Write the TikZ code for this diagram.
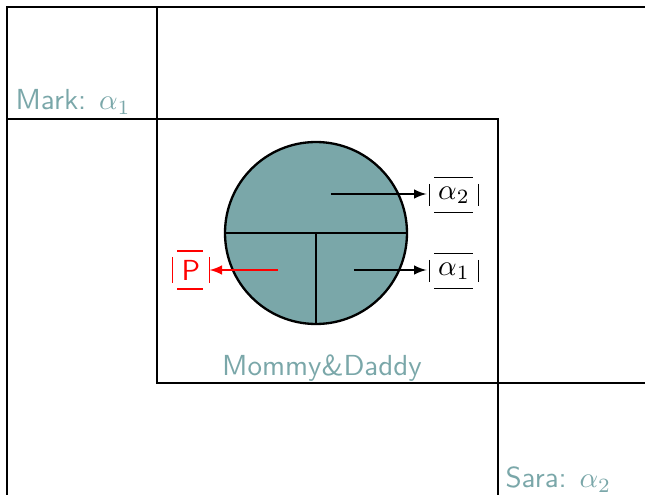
\documentclass[tikz,border=0pt]{standalone}
\usetikzlibrary{arrows,calc}
\begin{document}
\begin{tikzpicture}[x=0.3448pt,y=-0.3448pt]
\definecolor{tealfill}{RGB}{122,167,169}
\tikzset{
  regionline/.style={line width=0.45pt},
  setlabel/.style={text=tealfill,font=\sffamily,inner sep=0pt},
  vallabel/.style={inner sep=0pt,minimum width=16.55pt,minimum height=11.72pt},
  plabel/.style={inner sep=0pt,minimum width=12.41pt,minimum height=12.76pt,text=red},
  deco/.style={line width=0.45pt},
  arr/.style={-latex,line width=0.5pt},
}
\useasboundingbox (0,0) rectangle (645,495);
% region borders
\draw[regionline] (7,495) -- (7,7) -- (645,7);
\draw[regionline] (157,7) -- (157,383) -- (645,383);
\draw[regionline] (7,119) -- (498,119) -- (498,495);
% labels
\node[setlabel,anchor=base west] (mark) at (15,110) {Mark: $\alpha_1$};
\node[setlabel,anchor=base west] (sara) at (505,488) {Sara: $\alpha_2$};
\node[setlabel,anchor=base] (md) at (322,375) {Mommy\&Daddy};
% circle
\node[circle,draw,line width=0.8pt,fill=tealfill,minimum size=62.75pt,inner sep=0pt] (c) at (316,233) {};
\draw[line width=0.8pt] (c.west) -- (c.east);
\draw[line width=0.8pt] (c.center) -- (c.south);
% value labels
\node[vallabel] (l2) at (454,195) {$\alpha_2$};
\node[vallabel] (l1) at (454,271) {$\alpha_1$};
\node[plabel] (p) at (191,270) {$\mathsf{P}$};
\foreach \n in {l2,l1}{
  \draw[deco] ($(\n.north west)+(5,0)$) -- ($(\n.north east)+(-6,0)$);
  \draw[deco] ($(\n.south west)+(5,0)$) -- ($(\n.south east)+(-6,0)$);
  \draw[deco] ($(\n.west)+(0,-11)$) -- ($(\n.west)+(0,11)$);
  \draw[deco] ($(\n.east)+(0,-11)$) -- ($(\n.east)+(0,11)$);
}
\begin{scope}[red]
  \draw[deco] ($(p.north west)+(5,0)$) -- ($(p.north east)+(-7,0)$);
  \draw[deco] ($(p.south west)+(5,0)$) -- ($(p.south east)+(-7,0)$);
  \draw[deco] ($(p.west)+(0,-13)$) -- ($(p.west)+(0,13)$);
  \draw[deco] ($(p.east)+(0,-13)$) -- ($(p.east)+(0,13)$);
\end{scope}
\coordinate (s2) at (331,194);
\coordinate (s1) at (354,270);
\coordinate (sp) at (278,270);
\draw[arr,shorten >=1pt] (s2) -- (s2 -| l2.west);
\draw[arr,shorten >=1pt] (s1) -- (s1 -| l1.west);
\draw[arr,red] (sp) -- (p.east);
\end{tikzpicture}
\end{document}
